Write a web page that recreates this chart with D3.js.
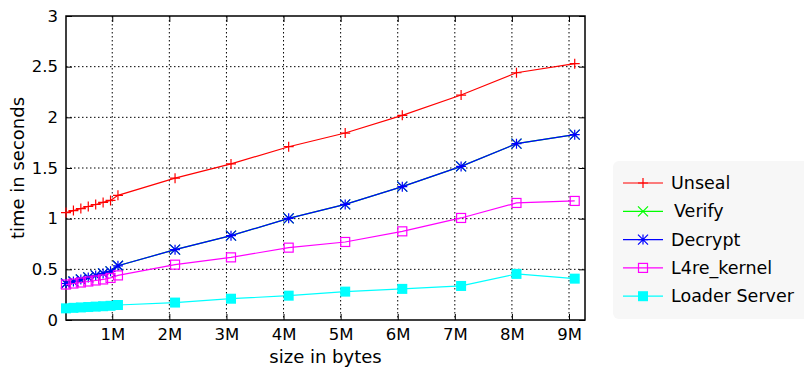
<!DOCTYPE html>
<html>
<head>
<meta charset="utf-8">
<script src="https://cdn.jsdelivr.net/npm/d3@7"></script>
<style>
  body { margin: 0; background: #fff; }
  text { font-family: "DejaVu Sans", sans-serif; fill: #000; }
</style>
</head>
<body>
<div id="chart"></div>
<script>
// sizes in M (bytes / 1e6)
const sizes = [0.19, 0.32, 0.45, 0.58, 0.71, 0.84, 0.97, 1.1, 2.1, 3.08, 4.09, 5.08, 6.08, 7.11, 8.08, 9.1];

const unseal  = [1.06, 1.08, 1.10, 1.12, 1.14, 1.16, 1.18, 1.23, 1.40, 1.54, 1.71, 1.845, 2.02, 2.22, 2.44, 2.53];
const verify  = [0.36, 0.38, 0.40, 0.42, 0.44, 0.46, 0.48, 0.535, 0.694, 0.832, 1.003, 1.141, 1.316, 1.516, 1.74, 1.829];
const decrypt = [0.36, 0.38, 0.40, 0.42, 0.44, 0.46, 0.48, 0.535, 0.694, 0.832, 1.003, 1.141, 1.316, 1.516, 1.74, 1.829];
const l4re    = [0.35, 0.36, 0.37, 0.38, 0.39, 0.40, 0.415, 0.44, 0.546, 0.618, 0.714, 0.77, 0.875, 1.007, 1.155, 1.175];
const loader  = [0.115, 0.12, 0.124, 0.128, 0.132, 0.136, 0.14, 0.148, 0.172, 0.21, 0.24, 0.28, 0.307, 0.336, 0.455, 0.408];

const seriesNames = ["Unseal", "Verify", "Decrypt", "L4re_kernel", "Loader Server"];
const seriesColors = ["#ff0000", "#00ff00", "#0000ff", "#ff00ff", "#00ffff"];
const seriesMarkers = ["plus", "cross", "star", "square", "filled"];
const seriesValues = [unseal, verify, decrypt, l4re, loader];

const xTicks = [1, 2, 3, 4, 5, 6, 7, 8, 9];
const yTicks = [0, 0.5, 1, 1.5, 2, 2.5, 3];

const W = 804, H = 368;
const margin = {top: 16, right: 219, bottom: 48, left: 66};
const width = W - margin.left - margin.right;
const height = H - margin.top - margin.bottom;

const svg = d3.select("#chart").append("svg")
    .attr("width", W).attr("height", H);
const g = svg.append("g")
    .attr("transform", "translate(" + margin.left + "," + margin.top + ")");

const x = d3.scaleLinear().domain([0.19, 9.28]).range([0, width]);
const y = d3.scaleLinear().domain([0, 3]).range([height, 0]);

// grid
g.append("g").selectAll("line").data(xTicks).enter().append("line")
    .attr("x1", d => x(d)).attr("x2", d => x(d))
    .attr("y1", 0).attr("y2", height)
    .attr("stroke", "#000").attr("stroke-width", 1)
    .attr("stroke-dasharray", "1.5,2.5");
g.append("g").selectAll("line").data(yTicks.slice(1, -1)).enter().append("line")
    .attr("x1", 0).attr("x2", width)
    .attr("y1", d => y(d)).attr("y2", d => y(d))
    .attr("stroke", "#000").attr("stroke-width", 1)
    .attr("stroke-dasharray", "1.5,2.5");

// axes (ticks inward, mirrored)
const xAxis = d3.axisBottom(x).tickValues(xTicks).tickFormat(d => d + "M").tickSizeInner(-6).tickSizeOuter(0).tickPadding(10);
const yAxis = d3.axisLeft(y).tickValues(yTicks).tickFormat(d3.format("")).tickSizeInner(-6).tickSizeOuter(0).tickPadding(8);

g.append("g").attr("transform", "translate(0," + height + ")").call(xAxis)
    .call(a => a.select(".domain").remove())
    .selectAll("text").style("font-size", "16.5px").attr("dy", "0.6em");
g.append("g").call(yAxis)
    .call(a => a.select(".domain").remove())
    .selectAll("text").style("font-size", "16.5px");
g.append("g").call(d3.axisTop(x).tickValues(xTicks).tickFormat("").tickSizeInner(-6).tickSizeOuter(0))
    .call(a => a.select(".domain").remove());
g.append("g").attr("transform", "translate(" + width + ",0)")
    .call(d3.axisRight(y).tickValues(yTicks).tickFormat("").tickSizeInner(-6).tickSizeOuter(0))
    .call(a => a.select(".domain").remove());

g.append("rect").attr("width", width).attr("height", height)
    .attr("fill", "none").attr("stroke", "#000").attr("stroke-width", 1.5);

// marker drawing
function drawMarker(sel, type, color) {
  const s = 5;
  if (type === "plus") {
    sel.append("path").attr("d", `M${-s},0H${s}M0,${-s}V${s}`)
        .attr("stroke", color).attr("stroke-width", 1.2).attr("fill", "none");
  } else if (type === "cross") {
    sel.append("path").attr("d", `M${-s},${-s}L${s},${s}M${-s},${s}L${s},${-s}`)
        .attr("stroke", color).attr("stroke-width", 1.2).attr("fill", "none");
  } else if (type === "star") {
    sel.append("path").attr("d", `M${-s},0H${s}M0,${-s}V${s}M${-s},${-s}L${s},${s}M${-s},${s}L${s},${-s}`)
        .attr("stroke", color).attr("stroke-width", 1.2).attr("fill", "none");
  } else if (type === "square") {
    sel.append("rect").attr("x", -4.5).attr("y", -4.5).attr("width", 9).attr("height", 9)
        .attr("stroke", color).attr("stroke-width", 1.2).attr("fill", "none");
  } else {
    sel.append("rect").attr("x", -5).attr("y", -5).attr("width", 10).attr("height", 10)
        .attr("fill", color);
  }
}

const line = d3.line().x(d => x(d[0])).y(d => y(d[1]));

seriesValues.forEach((vals, i) => {
  const pts = sizes.map((s, j) => [s, vals[j]]);
  const sg = g.append("g");
  sg.append("path").datum(pts).attr("d", line)
      .attr("fill", "none").attr("stroke", seriesColors[i]).attr("stroke-width", 1.2);
  sg.selectAll("g").data(pts).enter().append("g")
      .attr("transform", d => "translate(" + x(d[0]) + "," + y(d[1]) + ")")
      .each(function() { drawMarker(d3.select(this), seriesMarkers[i], seriesColors[i]); });
});

// axis titles
svg.append("text").text("size in bytes")
    .attr("x", margin.left + width / 2).attr("y", 363)
    .attr("text-anchor", "middle").style("font-size", "18px");
svg.append("text").text("time in seconds")
    .attr("transform", "translate(24," + (margin.top + height / 2) + ") rotate(-90)")
    .attr("text-anchor", "middle").style("font-size", "18px");

// legend
const legend = svg.append("g").attr("transform", "translate(613,161)");
legend.append("rect").attr("width", 200).attr("height", 158).attr("rx", 6)
    .attr("fill", "#f7f7f7");
seriesNames.forEach((name, i) => {
  const ly = 22 + i * 28.3;
  const row = legend.append("g").attr("transform", "translate(0," + ly + ")");
  row.append("line").attr("x1", 10).attr("x2", 50).attr("y1", 0).attr("y2", 0)
      .attr("stroke", seriesColors[i]).attr("stroke-width", 1.2);
  drawMarker(row.append("g").attr("transform", "translate(30,0)"), seriesMarkers[i], seriesColors[i]);
  row.append("text").text(name).attr("x", i === 1 ? 61 : 58).attr("dy", "0.35em")
      .style("font-size", "17.5px");
});
</script>
</body>
</html>
